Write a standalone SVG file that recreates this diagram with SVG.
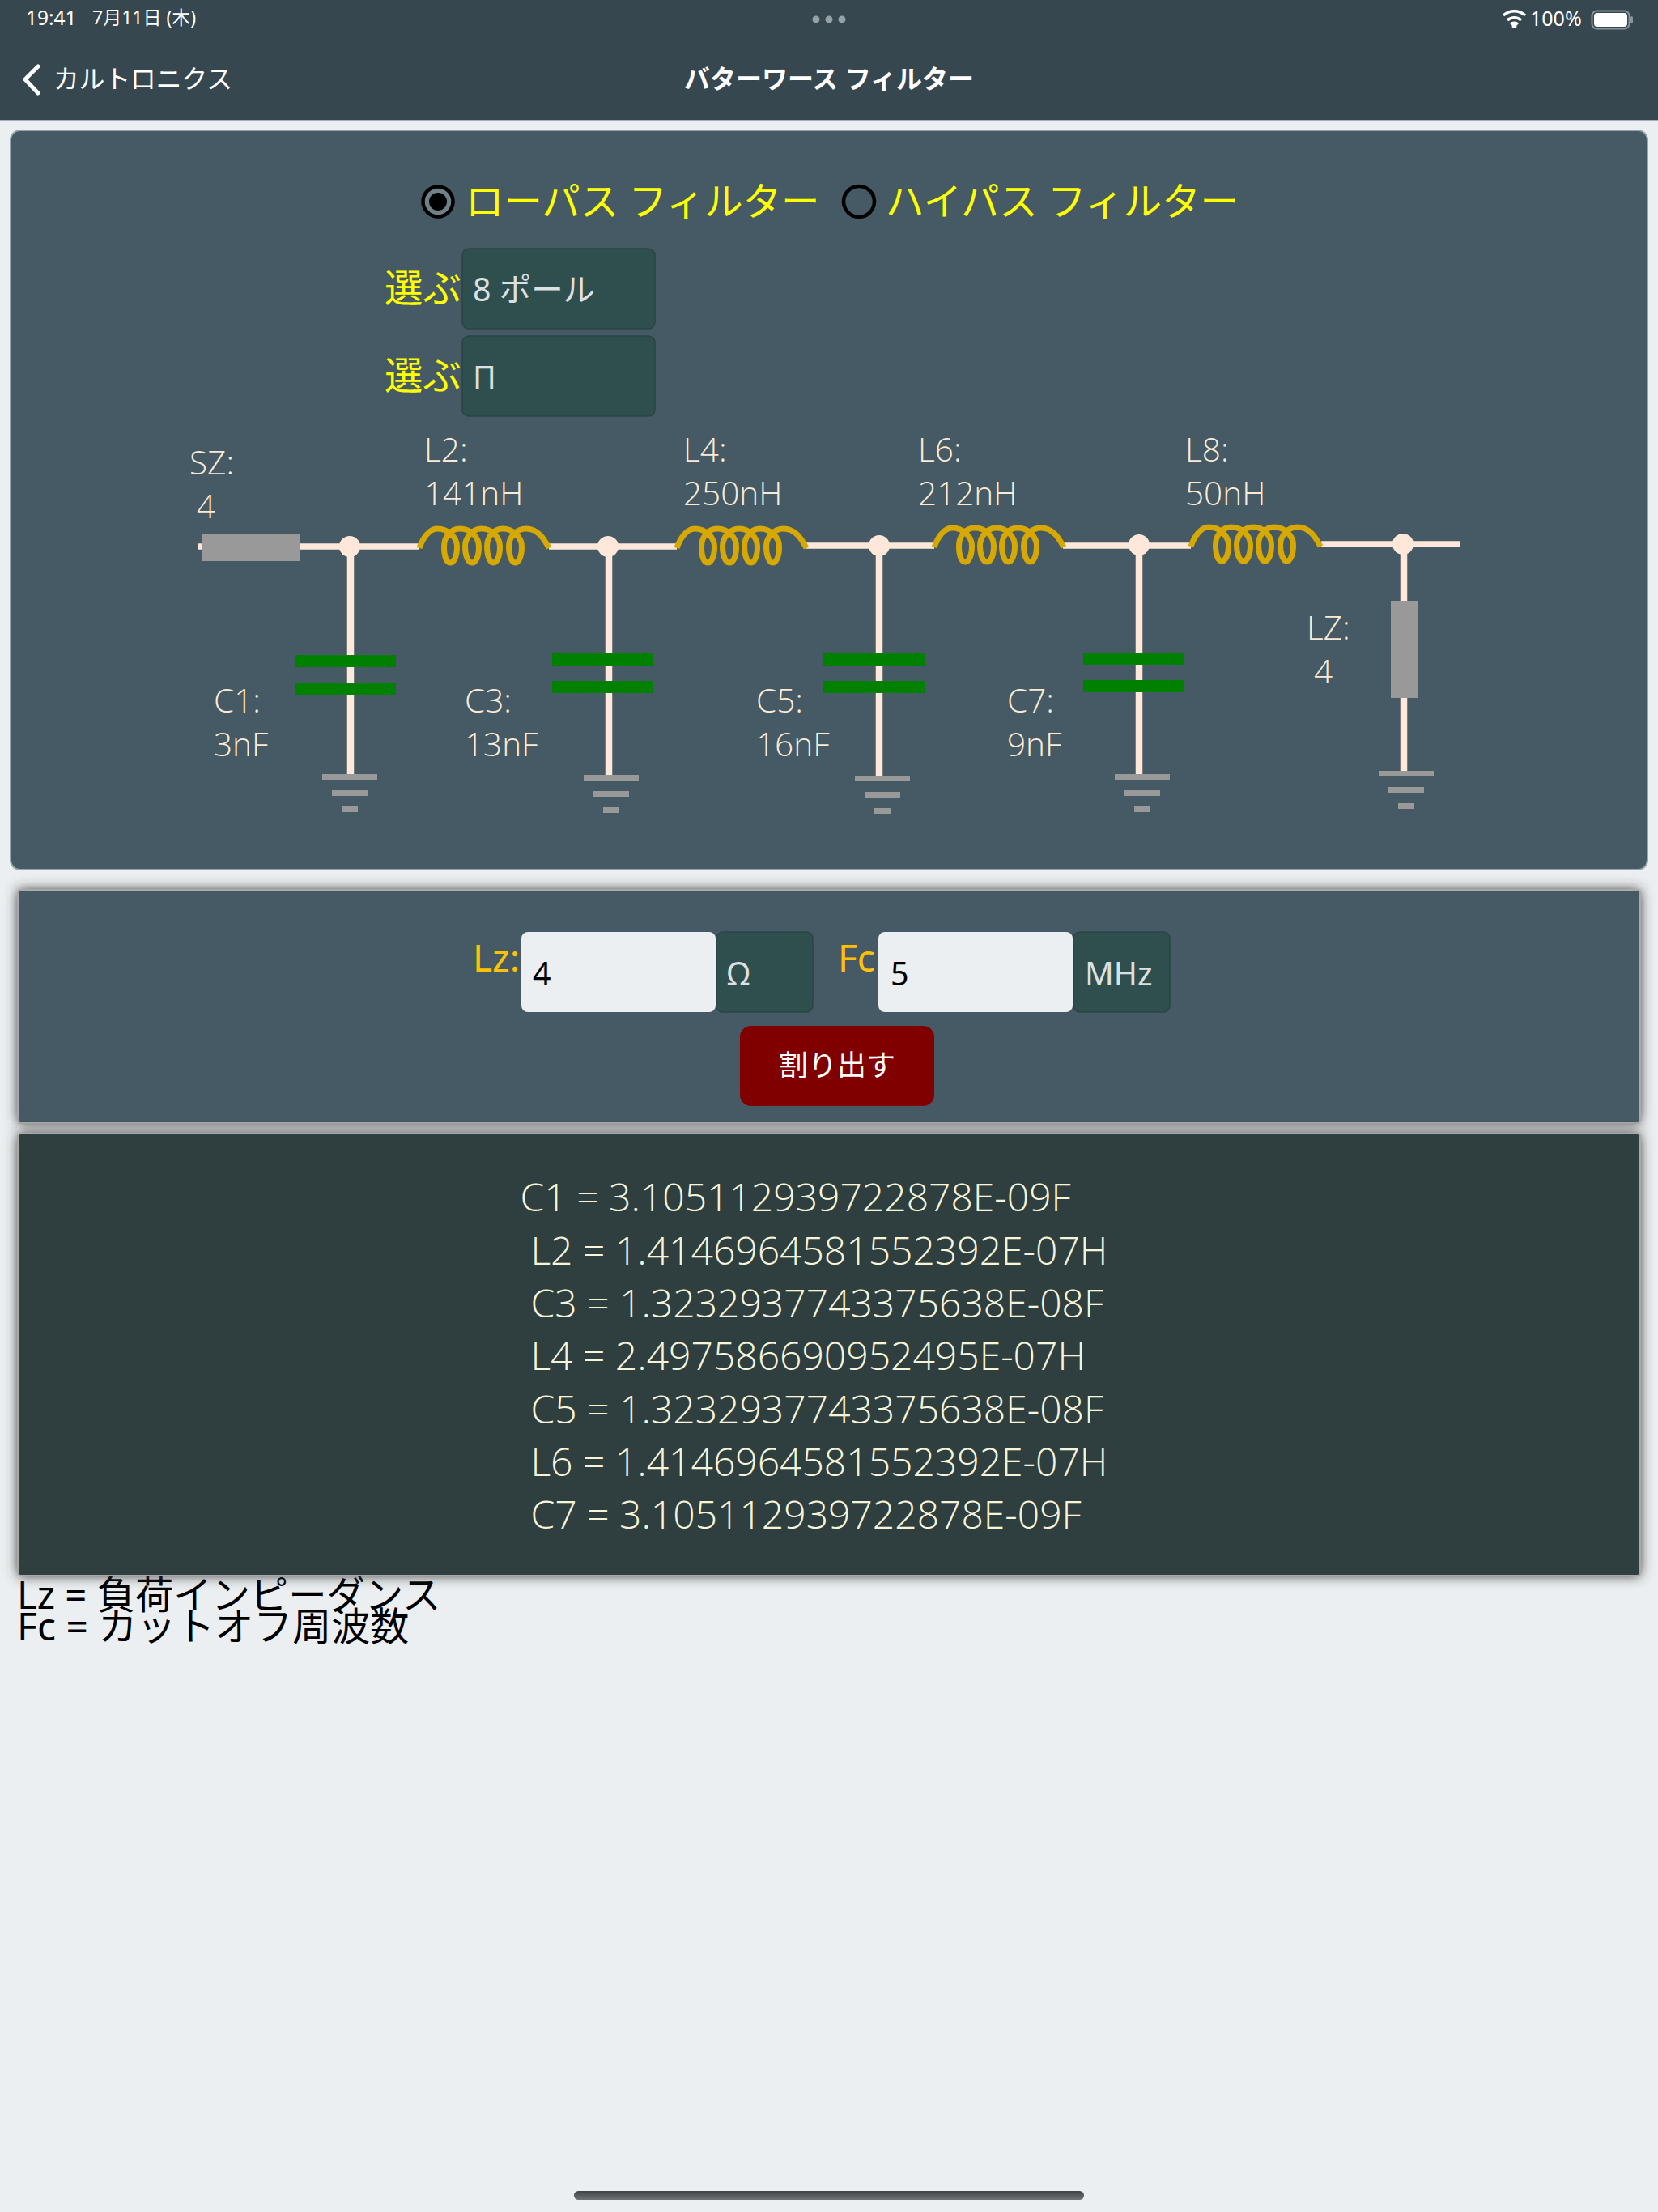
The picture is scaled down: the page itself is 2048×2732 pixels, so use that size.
<svg xmlns="http://www.w3.org/2000/svg" width="2048" height="2732" viewBox="0 0 2048 2732">
<style>
text{font-family:"Noto Sans","Noto Sans CJK JP",sans-serif}
.l{font-size:40.500px;font-weight:350;fill:#faebd7;font-family:"Open Sans","Noto Sans",sans-serif}
.r{font-size:48px;font-weight:350;fill:#f5f5dc;font-family:"Open Sans","Noto Sans",sans-serif}
.y{font-size:47.400px;fill:#ffff00}
.w{stroke:#ffe8d9;stroke-width:7.500;fill:none}
.v{stroke:#ffe8d9;stroke-width:8.500;fill:none}
.g{fill:#999}
.c{fill:#008000}
.coil{fill:none;stroke:#d6a800;stroke-width:7}
.sel{fill:#2f4f4f;stroke:#2a4444;stroke-width:1.500}
.p{fill:#455a64}
.n{fill:#ffe8d9}
.f{font-size:39.400px;fill:#dde0e0}
.k{font-size:46px;fill:#ffc107}
</style>
<defs>
<path id="coil" class="coil" d="M0,2C4,-10 12,-22 22,-22C36,-22 46.500,-11 46.500,0C46.500,12 43,20 38,20C33,20 30.500,11 30.500,0C30.500,-11 38,-22 50,-22C64,-22 73.500,-11 73.500,0C73.500,12 70,20 65,20C60,20 56.500,11 56.500,0C56.500,-11 65,-22 77,-22C90,-22 99.500,-11 99.500,0C99.500,12 96,20 91.500,20C87,20 83.500,11 83.500,0C83.500,-11 91,-22 103,-22C116,-22 126.500,-11 126.500,0C126.500,12 123,20 118.500,20C114,20 110.500,11 110.500,0C110.500,-11 119,-22 132,-22C146,-22 154,-10 160,2"/>
<g id="gnd"><rect class="g" x="-34" y="-3" width="68" height="7"/><rect class="g" x="-22" y="17" width="44" height="7"/><rect class="g" x="-10" y="37" width="20" height="7"/></g>
<g id="cap"><rect class="c" x="0" y="0" width="125" height="15"/><rect class="c" x="0" y="34" width="125" height="15"/></g>
<linearGradient id="bar" x1="0" y1="0" x2="0" y2="1"><stop offset="0" stop-color="#3f4345"/><stop offset="1" stop-color="#707274"/></linearGradient>
<filter id="blur" x="-5%" y="-15%" width="110%" height="130%"><feGaussianBlur stdDeviation="8"/></filter>
</defs>
<rect width="2048" height="2732" fill="#eceff1"/>
<g id="navbar">
<rect width="2048" height="148" fill="#37474f"/>
<rect y="148" width="2048" height="1.500" fill="#aab"/>
<text x="32" y="31" font-size="24.500" fill="#fff">19:41</text>
<text x="114" y="30" font-size="23" fill="#fff">7月11日 (木)</text>
<circle cx="1008" cy="24" r="4.500" fill="#93a2a8"/><circle cx="1024" cy="24" r="4.500" fill="#93a2a8"/><circle cx="1040" cy="24" r="4.500" fill="#93a2a8"/>
<path d="M1857,19a20,20 0 0 1 27,0M1862,25a13,13 0 0 1 17,0M1866,30a7,7 0 0 1 9,0" fill="none" stroke="#fff" stroke-width="3.500"/><circle cx="1870.500" cy="32" r="3" fill="#fff"/>
<text x="1890" y="32" font-size="25" fill="#fff">100%</text>
<rect x="1966.500" y="13.500" width="46" height="22" rx="6" fill="none" stroke="#87949b" stroke-width="2"/><rect x="1969" y="16" width="41" height="17" rx="4" fill="#fff"/><rect x="2014" y="20" width="3" height="9" rx="1.500" fill="#87949b"/>
<path d="M47,82 L31,98 L47,115" fill="none" stroke="#fff" stroke-width="5" stroke-linecap="round" stroke-linejoin="round"/>
<text x="66" y="109" font-size="31.700" fill="#fff">カルトロニクス</text>
<text x="1024" y="109" font-size="32" fill="#fff" font-weight="700" text-anchor="middle">バターワース フィルター</text>
</g>
<g id="panel-filter">
<rect class="p" x="13" y="161" width="2022" height="913" rx="12" stroke="#9aa3a8" stroke-width="2"/>
</g>
<g id="radio-lowpass"><circle cx="541" cy="249" r="18.500" fill="#6f8088" stroke="#000" stroke-width="4.500"/><circle cx="541" cy="249" r="11" fill="#000"/><text class="y" x="575" y="266">ローパス フィルター</text></g>
<g id="radio-highpass"><circle cx="1061" cy="249" r="19" fill="none" stroke="#000" stroke-width="4.500"/><text class="y" x="1094" y="266">ハイパス フィルター</text></g>
<g id="select-poles"><text class="y" x="475" y="373">選ぶ</text><rect class="sel" x="571" y="307" width="238" height="99" rx="8"/><text class="f" x="584" y="372">8 ポール</text></g>
<g id="select-type"><text class="y" x="475" y="481">選ぶ</text><rect class="sel" x="571" y="415" width="238" height="99" rx="8"/><text class="f" x="584" y="481">Π</text></g>
<g id="connectors">
<path class="w" d="M244,675H518M678,675H836M995,674H1154M1313,674H1471M1632,672H1804"/>
<path class="v" d="M433,675V959M752,675V959M1086,674V962M1407,673V959M1734,672V955"/>
</g>
<g id="SZ"><rect class="g" x="250" y="659" width="121" height="34"/><text class="l" x="234" y="586">SZ:</text><text class="l" x="243" y="640">4</text></g>
<g id="n1"><circle class="n" cx="432" cy="675" r="13"/></g>
<g id="n2"><circle class="n" cx="751" cy="675" r="13"/></g>
<g id="n3"><circle class="n" cx="1086" cy="674" r="13"/></g>
<g id="n4"><circle class="n" cx="1407" cy="673" r="13"/></g>
<g id="n5"><circle class="n" cx="1733" cy="672" r="13"/></g>
<g id="L2"><use href="#coil" x="518" y="675"/><text class="l" x="524" y="570">L2:</text><text class="l" x="524" y="624">141nH</text></g>
<g id="L4"><use href="#coil" x="836" y="675"/><text class="l" x="844" y="570">L4:</text><text class="l" x="844" y="624">250nH</text></g>
<g id="L6"><use href="#coil" x="1154" y="674"/><text class="l" x="1134" y="570">L6:</text><text class="l" x="1134" y="624">212nH</text></g>
<g id="L8"><use href="#coil" x="1471" y="673"/><text class="l" x="1464" y="570">L8:</text><text class="l" x="1464" y="624">50nH</text></g>
<g id="C1"><use href="#cap" x="364" y="809"/><use href="#gnd" x="432" y="959"/><text class="l" x="264" y="880">C1:</text><text class="l" x="264" y="934">3nF</text></g>
<g id="C3"><use href="#cap" x="682" y="807"/><use href="#gnd" x="755" y="960"/><text class="l" x="574" y="880">C3:</text><text class="l" x="574" y="934">13nF</text></g>
<g id="C5"><use href="#cap" x="1017" y="807"/><use href="#gnd" x="1090" y="961"/><text class="l" x="934" y="880">C5:</text><text class="l" x="934" y="934">16nF</text></g>
<g id="C7"><use href="#cap" x="1338" y="806"/><use href="#gnd" x="1411" y="959"/><text class="l" x="1244" y="880">C7:</text><text class="l" x="1244" y="934">9nF</text></g>
<g id="LZ"><rect class="g" x="1718" y="742" width="34" height="120"/><use href="#gnd" x="1737" y="955"/><text class="l" x="1614" y="790">LZ:</text><text class="l" x="1623" y="844">4</text></g>
<g id="legend">
<text x="21" y="1987" font-size="47.300" fill="#000">Lz = 負荷インピーダンス</text>
<text x="21" y="2026" font-size="48" fill="#000">Fc = カットオフ周波数</text>
</g>
<g id="panel-input">
<rect x="22" y="1099" width="2004" height="288" fill="#333" filter="url(#blur)"/>
<rect class="p" x="22" y="1099" width="2004" height="288" rx="4" stroke="#aaa" stroke-width="2"/>
<text class="k" x="584" y="1200">Lz:</text>
<rect x="644" y="1151" width="240" height="99" rx="8" fill="#eceff1"/><text class="f" x="658" y="1217" style="fill:#000">4</text>
<rect class="sel" x="885" y="1151" width="119" height="99" rx="8"/><text class="f" x="898" y="1217">Ω</text>
<text class="k" x="1035" y="1200">Fc:</text>
<rect x="1085" y="1151" width="240" height="99" rx="8" fill="#eceff1"/><text class="f" x="1100" y="1217" style="fill:#000">5</text>
<rect class="sel" x="1326" y="1151" width="119" height="99" rx="8"/><text class="f" x="1340" y="1217">MHz</text>
<rect x="914" y="1267" width="240" height="99" rx="14" fill="#800000"/><text x="1034" y="1329" font-size="36" fill="#fff" text-anchor="middle">割り出す</text>
</g>
<g id="panel-results">
<rect x="22" y="1400" width="2004" height="546" fill="#333" filter="url(#blur)"/>
<rect x="22" y="1400" width="2004" height="546" rx="4" fill="#2f3e3e" stroke="#aaa" stroke-width="2"/>
<text class="r" x="642.500" y="1496">C1 = 3.105112939722878E-09F</text>
<text class="r" x="655.500" y="1562">L2 = 1.4146964581552392E-07H</text>
<text class="r" x="655.500" y="1627">C3 = 1.3232937743375638E-08F</text>
<text class="r" x="655.500" y="1692">L4 = 2.497586690952495E-07H</text>
<text class="r" x="655.500" y="1758">C5 = 1.3232937743375638E-08F</text>
<text class="r" x="655.500" y="1823">L6 = 1.4146964581552392E-07H</text>
<text class="r" x="655.500" y="1888">C7 = 3.105112939722878E-09F</text>
</g>
<rect id="home" x="709" y="2706" width="630" height="11" rx="5.500" fill="url(#bar)"/>
</svg>
